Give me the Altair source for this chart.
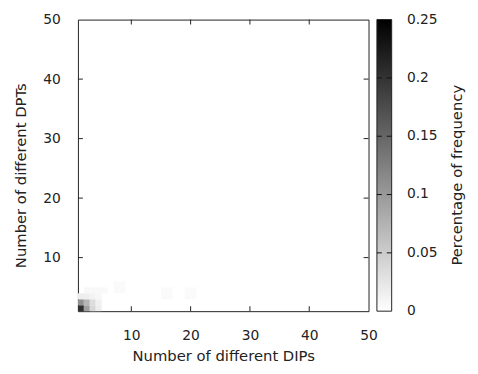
import altair as alt
import pandas as pd

# cell data (x = number of DIPs, y = number of DPTs, value = fraction)
cell_x = [1, 2, 3, 4, 1, 2, 3, 4, 1, 2, 3, 4, 2, 3, 4, 5, 7, 8, 7, 8, 15, 16, 15, 16, 19, 20, 19, 20]
cell_y = [1, 1, 1, 1, 2, 2, 2, 2, 3, 3, 3, 3, 4, 4, 4, 4, 4, 4, 5, 5, 3, 3, 4, 4, 3, 3, 4, 4]
cell_v = [0.20, 0.085, 0.035, 0.016, 0.10, 0.065, 0.03, 0.013, 0.016, 0.015, 0.01, 0.007,
          0.006, 0.006, 0.006, 0.005, 0.004, 0.004, 0.004, 0.004,
          0.004, 0.004, 0.004, 0.004, 0.004, 0.004, 0.004, 0.004]

x_ticks = [10, 20, 30, 40, 50]
y_ticks = [10, 20, 30, 40, 50]
inner_ticks = [10, 20, 30, 40]
cb_ticks = [0, 0.05, 0.1, 0.15, 0.2, 0.25]
cb_inner = [0.05, 0.1, 0.15, 0.2]
cb_title = ["Percentage of frequency"]
cb_domain = [0, 0.25]

df = pd.DataFrame({"x": cell_x, "y": cell_y, "v": cell_v})
df["x2"] = df["x"] + 1
df["y2"] = df["y"] + 1
tdf = pd.DataFrame({"t": inner_ticks})
cdf = pd.DataFrame({"c": cb_inner})
ldf = pd.DataFrame({"c": cb_ticks})

W, H = 295, 296
CB0, CB1 = 303.5, 318.5
FONT = "DejaVu Sans"
TXT = "#222222"
LINE = "#222222"

xs = alt.Scale(domain=[1, 50], nice=False, zero=False)
ys = alt.Scale(domain=[1, 50], nice=False, zero=False)
cs = alt.Scale(domain=cb_domain, nice=False, zero=False)

cells = alt.Chart(df).mark_rect().encode(
    x=alt.X("x:Q", scale=xs, axis=alt.Axis(values=x_ticks, title="Number of different DIPs",
                                           ticks=False, domain=False, grid=False, labelFlush=False,
                                           labelPadding=18, titlePadding=6)),
    x2="x2:Q",
    y=alt.Y("y:Q", scale=ys, axis=alt.Axis(values=y_ticks, title="Number of different DPTs",
                                           ticks=False, domain=False, grid=False, labelFlush=False,
                                           labelPadding=18, titlePadding=14, titleY=158)),
    y2="y2:Q",
    color=alt.Color("v:Q",
                    scale=alt.Scale(domain=cb_domain, range=["#ffffff", "#000000"], nice=False),
                    legend=None),
)

bx = alt.Chart(tdf).mark_rule(color=LINE).encode(
    x=alt.X("t:Q", scale=xs), y=alt.value(H), y2=alt.value(H - 5))
tx = alt.Chart(tdf).mark_rule(color=LINE).encode(
    x=alt.X("t:Q", scale=xs), y=alt.value(0), y2=alt.value(5))
ly = alt.Chart(tdf).mark_rule(color=LINE).encode(
    y=alt.Y("t:Q", scale=ys), x=alt.value(0), x2=alt.value(5))
ry = alt.Chart(tdf).mark_rule(color=LINE).encode(
    y=alt.Y("t:Q", scale=ys), x=alt.value(W), x2=alt.value(W - 5))

grad = alt.LinearGradient(
    gradient="linear", x1=0, x2=0, y1=0, y2=1,
    stops=[alt.GradientStop(color="#000000", offset=0),
           alt.GradientStop(color="#ffffff", offset=1)])
cbar = alt.Chart(pd.DataFrame({"c": [0]})).mark_rect(
    fill=grad, stroke=LINE, strokeWidth=1
).encode(x=alt.value(CB0), x2=alt.value(CB1), y=alt.value(0), y2=alt.value(H))

title_txt = alt.Chart(pd.DataFrame({"t": cb_title})).mark_text(
    angle=270, font=FONT, fontSize=15, color=TXT, align="center", baseline="middle"
).encode(text="t:N", x=alt.value(385), y=alt.value(158))

cbt_l = alt.Chart(cdf).mark_rule(color="#111111").encode(
    y=alt.Y("c:Q", scale=cs, axis=None), x=alt.value(CB0), x2=alt.value(CB0 + 5))
cbt_r = alt.Chart(cdf).mark_rule(color="#111111").encode(
    y=alt.Y("c:Q", scale=cs, axis=None), x=alt.value(CB1), x2=alt.value(CB1 - 5))
cb_lab = alt.Chart(ldf).mark_text(
    font=FONT, fontSize=14, color=TXT, align="left", baseline="middle"
).encode(y=alt.Y("c:Q", scale=cs, axis=None), text=alt.Text("c:Q", format="~g"),
         x=alt.value(334))

base = alt.layer(cells, bx, tx, ly, ry, cbar, title_txt)
cbl = alt.layer(cbt_l, cbt_r, cb_lab)
chart = alt.layer(base, cbl).resolve_scale(y="independent").properties(
    width=W, height=H,
    autosize=alt.AutoSizeParams(type="none"),
    padding={"left": 71, "top": 9, "right": 103, "bottom": 60},
).configure_view(
    stroke=LINE, strokeWidth=1
).configure_axis(
    labelFont=FONT, titleFont=FONT, labelFontSize=14, titleFontSize=15,
    labelColor=TXT, titleColor=TXT, titleFontWeight="normal"
)

chart.save("out.html", embed_options={"renderer": "svg", "actions": False})
